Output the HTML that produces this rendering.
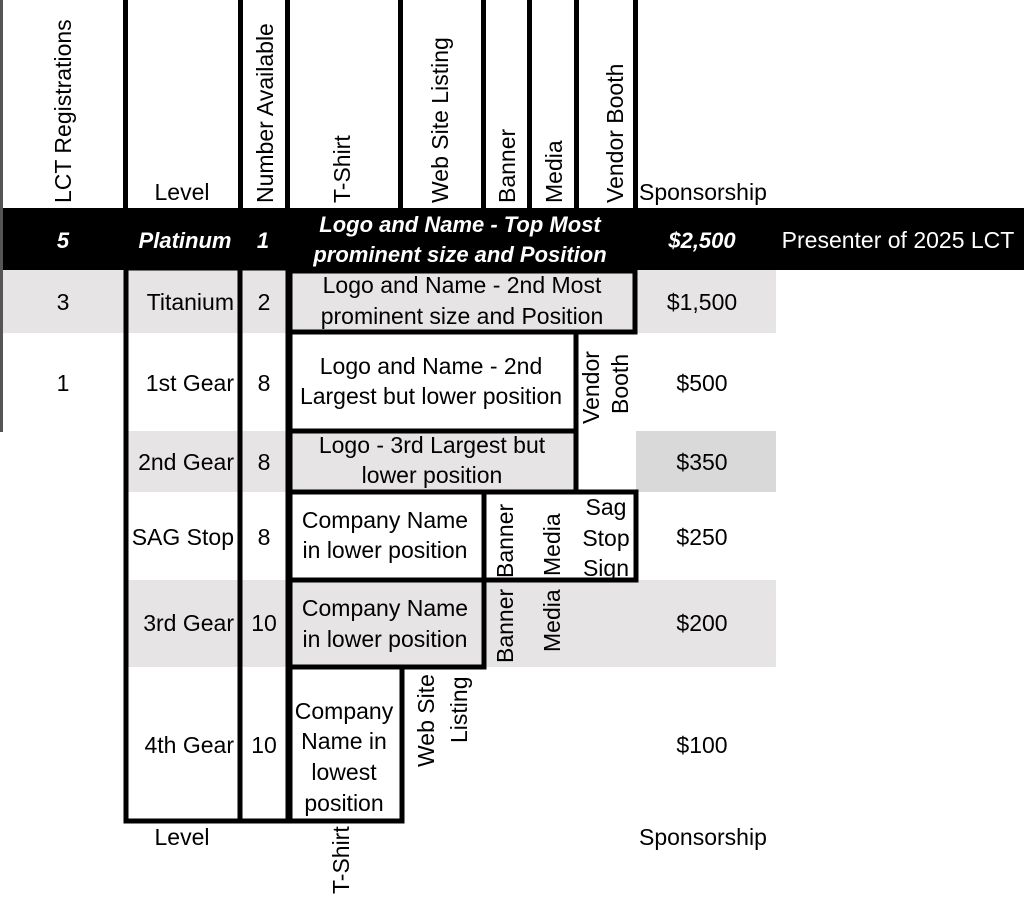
<!DOCTYPE html>
<html><head><meta charset="utf-8"><style>
html,body{margin:0;padding:0;background:#fff;width:1024px;height:901px;overflow:hidden}
svg{display:block}
text{font-family:"Liberation Sans",Arial,sans-serif;font-size:23px;fill:#000}
.w{fill:#fff;font-style:italic;font-weight:bold;font-size:22px}
</style></head><body>
<svg width="1024" height="901" viewBox="0 0 1024 901" xmlns="http://www.w3.org/2000/svg">
<rect x="0" y="270" width="776" height="63" fill="#e6e4e4"/>
<rect x="126" y="431" width="451" height="61" fill="#e6e4e4"/>
<rect x="636" y="431" width="140" height="61" fill="#d9d9d9"/>
<rect x="126" y="580" width="650" height="87" fill="#e6e4e4"/>
<rect x="0" y="208" width="1024" height="62" fill="#000"/>
<rect x="0" y="0" width="3" height="432" fill="#555"/>
<g fill="#000">
<rect x="123" y="0" width="5" height="208"/>
<rect x="238" y="0" width="5" height="208"/>
<rect x="285" y="0" width="5" height="208"/>
<rect x="398" y="0" width="5" height="208"/>
<rect x="481" y="0" width="5" height="208"/>
<rect x="527" y="0" width="5" height="208"/>
<rect x="574" y="0" width="5" height="208"/>
<rect x="633" y="0" width="5" height="208"/>
</g>
<g fill="none" stroke="#000" stroke-width="5">
<rect x="126" y="268" width="114" height="553"/>
<rect x="240" y="268" width="48" height="553"/>
<rect x="290" y="271" width="345" height="61"/>
<rect x="290" y="332" width="286" height="99"/>
<line x1="576" y1="332" x2="576" y2="492"/>
<line x1="576" y1="332" x2="636" y2="332"/>
<rect x="290" y="431" width="286" height="61"/>
<rect x="290" y="492" width="194" height="88"/>
<rect x="484" y="492" width="152" height="88"/>
<rect x="290" y="580" width="194" height="87"/>
<rect x="290" y="667" width="112" height="154"/>
</g>
<g>
<text transform="translate(71,203) rotate(-90)">LCT Registrations</text>
<text transform="translate(273,203) rotate(-90)">Number Available</text>
<text transform="translate(350,203) rotate(-90)">T-Shirt</text>
<text transform="translate(448,203) rotate(-90)">Web Site Listing</text>
<text transform="translate(515,203) rotate(-90)">Banner</text>
<text transform="translate(562,203) rotate(-90)">Media</text>
<text transform="translate(623,203) rotate(-90)">Vendor Booth</text>
</g>
<text x="182" y="200" text-anchor="middle">Level</text>
<text x="639" y="200">Sponsorship</text>
<text class="w" x="63" y="248" text-anchor="middle">5</text>
<text class="w" x="185" y="248" text-anchor="middle">Platinum</text>
<text class="w" x="263" y="248" text-anchor="middle">1</text>
<text class="w" x="460" y="232" text-anchor="middle">Logo and Name - Top Most</text>
<text class="w" x="460" y="262" text-anchor="middle">prominent size and Position</text>
<text class="w" x="702" y="248" text-anchor="middle">$2,500</text>
<text x="898" y="248" text-anchor="middle" style="fill:#fff">Presenter of 2025 LCT</text>
<text x="63" y="310" text-anchor="middle">3</text>
<text x="234" y="310" text-anchor="end">Titanium</text>
<text x="264" y="310" text-anchor="middle">2</text>
<text x="462" y="293" text-anchor="middle">Logo and Name - 2nd Most</text>
<text x="462" y="324" text-anchor="middle">prominent size and Position</text>
<text x="702" y="310" text-anchor="middle">$1,500</text>
<text x="63" y="391" text-anchor="middle">1</text>
<text x="234" y="391" text-anchor="end">1st Gear</text>
<text x="264" y="391" text-anchor="middle">8</text>
<text x="431" y="374" text-anchor="middle">Logo and Name - 2nd</text>
<text x="431" y="404" text-anchor="middle">Largest but lower position</text>
<text transform="translate(599,424) rotate(-90)">Vendor</text>
<text transform="translate(628,414) rotate(-90)">Booth</text>
<text x="702" y="391" text-anchor="middle">$500</text>
<text x="234" y="470" text-anchor="end">2nd Gear</text>
<text x="264" y="470" text-anchor="middle">8</text>
<text x="432" y="453" text-anchor="middle">Logo - 3rd Largest but</text>
<text x="432" y="483" text-anchor="middle">lower position</text>
<text x="702" y="470" text-anchor="middle">$350</text>
<text x="234" y="545" text-anchor="end">SAG Stop</text>
<text x="264" y="545" text-anchor="middle">8</text>
<text x="385" y="528" text-anchor="middle">Company Name</text>
<text x="385" y="558" text-anchor="middle">in lower position</text>
<text transform="translate(513,578) rotate(-90)">Banner</text>
<text transform="translate(560,576) rotate(-90)">Media</text>
<text x="606" y="515" text-anchor="middle">Sag</text>
<text x="606" y="546" text-anchor="middle">Stop</text>
<text x="606" y="576" text-anchor="middle">Sign</text>
<text x="702" y="545" text-anchor="middle">$250</text>
<text x="234" y="631" text-anchor="end">3rd Gear</text>
<text x="264" y="631" text-anchor="middle">10</text>
<text x="385" y="616" text-anchor="middle">Company Name</text>
<text x="385" y="647" text-anchor="middle">in lower position</text>
<text transform="translate(513,663) rotate(-90)">Banner</text>
<text transform="translate(560,652) rotate(-90)">Media</text>
<text x="702" y="631" text-anchor="middle">$200</text>
<text x="234" y="753" text-anchor="end">4th Gear</text>
<text x="264" y="753" text-anchor="middle">10</text>
<text x="344" y="719" text-anchor="middle">Company</text>
<text x="344" y="749" text-anchor="middle">Name in</text>
<text x="344" y="780" text-anchor="middle">lowest</text>
<text x="344" y="811" text-anchor="middle">position</text>
<text transform="translate(434,767) rotate(-90)">Web Site</text>
<text transform="translate(467,743) rotate(-90)">Listing</text>
<text x="702" y="753" text-anchor="middle">$100</text>
<text x="182" y="845" text-anchor="middle">Level</text>
<text transform="translate(349,894) rotate(-90)">T-Shirt</text>
<text x="639" y="845">Sponsorship</text>
</svg>
</body></html>
